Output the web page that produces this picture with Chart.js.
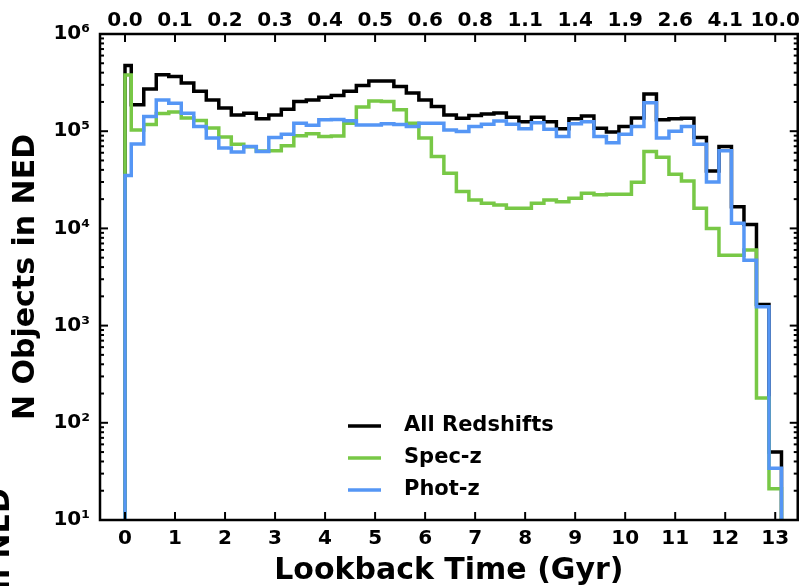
<!DOCTYPE html>
<html>
<head>
<meta charset="utf-8">
<script src="https://cdn.jsdelivr.net/npm/chart.js@4"></script>
<style>
  html, body { margin: 0; padding: 0; background: #fff; }
  #wrap { width: 801px; height: 586px; }
</style>
</head>
<body>
<div id="wrap"><canvas id="graficoNED" width="801" height="586"></canvas></div>
<script>
// bin centres in lookback time (Gyr)
const binCenters = [0, 0.25, 0.5, 0.75, 1, 1.25, 1.5, 1.75, 2, 2.25, 2.5, 2.75, 3, 3.25, 3.5, 3.75,
    4, 4.25, 4.5, 4.75, 5, 5.25, 5.5, 5.75, 6, 6.25, 6.5, 6.75, 7, 7.25, 7.5, 7.75, 8, 8.25, 8.5, 8.75,
    9, 9.25, 9.5, 9.75, 10, 10.25, 10.5, 10.75, 11, 11.25, 11.5, 11.75, 12, 12.25, 12.5, 12.75, 13];
const binWidth = 0.25;

// N objects per bin
const allRedshifts = [475000, 187000, 271000, 381000, 366000, 313000, 257000, 210000, 173000, 147000,
    153000, 134000, 147000, 168000, 202000, 210000, 224000, 233000, 257000, 295000,
    328000, 328000, 289000, 247000, 210000, 180000, 147000, 136000, 145000, 150000,
    154000, 139000, 125000, 139000, 125000, 106000, 134000, 143000, 107000, 98000,
    112000, 137000, 241000, 131000, 134000, 136000, 86000, 39000, 69500, 16700,
    11000, 1650, 50];
const specZ = [378000, 103000, 117000, 152000, 158000, 137000, 129000, 108000, 87000, 73500,
    69000, 62500, 63000, 71000, 90000, 94000, 88000, 89000, 121000, 177000,
    205000, 202000, 166000, 121000, 85000, 55000, 37000, 24000, 19600, 18100,
    17400, 16100, 16100, 18100, 19600, 18800, 20400, 23000, 22200, 22500,
    22500, 29800, 62000, 54000, 36000, 30800, 16100, 10000, 5300, 5300,
    6000, 180, 21];
const photZ = [35000, 74000, 142000, 210000, 194000, 153000, 112000, 85000, 67000, 61000,
    69500, 62000, 86000, 93000, 121000, 115000, 131000, 132000, 128000, 116000,
    116000, 119000, 117000, 112000, 121000, 121000, 103000, 99000, 112000, 118000,
    127000, 118000, 106000, 122000, 105000, 88000, 119000, 125000, 88000, 76000,
    93000, 112000, 196000, 85000, 100000, 112000, 73500, 30000, 63000, 11300,
    4700, 1560, 34];
const emptyBin = 1; // below the axis floor

// axes
const lookbackTicks = [0, 1, 2, 3, 4, 5, 6, 7, 8, 9, 10, 11, 12, 13];
const redshiftLabels = ['0.0', '0.1', '0.2', '0.3', '0.4', '0.5', '0.6', '0.8', '1.1', '1.4', '1.9', '2.6', '4.1', '10.0'];
const countTicks = [10, 100, 1000, 10000, 100000, 1000000];
const countLabels = ['10¹', '10²', '10³', '10⁴', '10⁵', '10⁶'];

const seriesNames = ['All Redshifts', 'Spec-z', 'Phot-z'];
const seriesColors = ['#000000', '#78C846', '#5596F5'];

const FONT = 'DejaVu Sans';

// histogram outline: one point per bin left edge, horizontal first then vertical
function toSteps(values) {
    const pts = [{ x: binCenters[0], y: emptyBin }];
    values.forEach((v, i) => {
        pts.push({ x: i === 0 ? binCenters[0] : binCenters[i] - binWidth / 2, y: v });
    });
    pts.push({ x: binCenters[binCenters.length - 1] + binWidth / 2, y: emptyBin });
    return pts;
}

const series = [allRedshifts, specZ, photZ];

const framePlugin = {
    id: 'frame',
    afterDraw(chart) {
        const ctx = chart.ctx;
        const { left, right, top, bottom } = chart.chartArea;
        const xs = chart.scales.x, ys = chart.scales.y;
        ctx.save();
        ctx.strokeStyle = '#000';
        ctx.lineCap = 'butt';

        const seg = (x1, y1, x2, y2) => { ctx.beginPath(); ctx.moveTo(x1, y1); ctx.lineTo(x2, y2); ctx.stroke(); };

        // inward ticks
        ctx.lineWidth = 2;
        lookbackTicks.forEach(t => {
            const px = xs.getPixelForValue(t);
            seg(px, bottom, px, bottom - 8);
            seg(px, top, px, top + 8);
        });
        countTicks.forEach((v, i) => {
            const py = ys.getPixelForValue(v);
            seg(left, py, left + 8, py);
            seg(right, py, right - 8, py);
            if (i < countTicks.length - 1) {
                for (let m = 2; m <= 9; m++) {
                    const pm = ys.getPixelForValue(v * m);
                    seg(left, pm, left + 4, pm);
                    seg(right, pm, right - 4, pm);
                }
            }
        });

        // frame
        ctx.lineWidth = 2.5;
        ctx.strokeRect(left, top, right - left, bottom - top);

        // legend inside the plot
        const lx = left + 248, ly = bottom - 94;
        ctx.font = 'bold 21px "' + FONT + '"';
        ctx.textBaseline = 'middle';
        ctx.textAlign = 'left';
        chart.data.datasets.forEach((ds, i) => {
            const yy = ly + i * 32;
            ctx.strokeStyle = ds.borderColor;
            ctx.lineWidth = 3.5;
            seg(lx, yy, lx + 33, yy);
            ctx.fillStyle = '#000';
            ctx.fillText(ds.label, lx + 56, yy);
        });

        // clipped label of the neighbouring panel
        ctx.font = 'bold 30px "' + FONT + '"';
        ctx.translate(9, 488);
        ctx.rotate(-Math.PI / 2);
        ctx.textAlign = 'right';
        ctx.textBaseline = 'alphabetic';
        ctx.fillText('N Objects in NED', 0, 0);
        ctx.restore();
    }
};

const tickFont = { family: FONT, size: 20, weight: 'bold' };
const titleFont = { family: FONT, size: 30, weight: 'bold' };

new Chart(document.getElementById('graficoNED').getContext('2d'), {
    type: 'line',
    data: {
        datasets: series.map((vals, i) => ({
            label: seriesNames[i],
            data: toSteps(vals),
            borderColor: seriesColors[i],
            backgroundColor: seriesColors[i],
            borderWidth: 3.5,
            pointRadius: 0,
            fill: false,
            stepped: 'before',
            clip: 0,
            order: 3 - i,
            borderJoinStyle: 'miter'
        }))
    },
    options: {
        responsive: false,
        animation: false,
        layout: { padding: { left: 0, right: 3, top: 0, bottom: 0 } },
        plugins: {
            legend: { display: false },
            tooltip: { enabled: false }
        },
        scales: {
            x: {
                type: 'linear',
                position: 'bottom',
                min: -0.5,
                max: 13.45,
                afterBuildTicks: s => { s.ticks = lookbackTicks.map(v => ({ value: v })); },
                afterFit: s => { s.height = 66; },
                grid: { display: false, drawTicks: false, tickLength: 0 },
                border: { display: false },
                ticks: { font: tickFont, color: '#000', padding: 7, maxRotation: 0, autoSkip: false,
                    callback: v => String(v) },
                title: { display: true, text: 'Lookback Time (Gyr)', font: titleFont, color: '#000',
                    padding: { top: 0, bottom: -3 } }
            },
            x2: {
                type: 'linear',
                position: 'top',
                min: -0.5,
                max: 13.45,
                afterBuildTicks: s => { s.ticks = lookbackTicks.map(v => ({ value: v })); },
                afterFit: s => { s.height = 34; },
                grid: { display: false, drawTicks: false, tickLength: 0 },
                border: { display: false },
                ticks: { font: tickFont, color: '#000', padding: 1, maxRotation: 0, autoSkip: false,
                    callback: v => redshiftLabels[lookbackTicks.indexOf(v)] }
            },
            y: {
                type: 'logarithmic',
                position: 'left',
                min: 10,
                max: 1000000,
                afterBuildTicks: s => { s.ticks = countTicks.map(v => ({ value: v })); },
                afterFit: s => { s.width = 100; },
                grid: { display: false, drawTicks: false, tickLength: 0 },
                border: { display: false },
                ticks: { font: tickFont, color: '#000', padding: 10, autoSkip: false,
                    callback: v => countLabels[countTicks.indexOf(v)] },
                title: { display: true, text: 'N Objects in NED', font: titleFont, color: '#000',
                    padding: { top: 8, bottom: 0 } }
            }
        }
    },
    plugins: [framePlugin]
});
</script>
</body>
</html>
